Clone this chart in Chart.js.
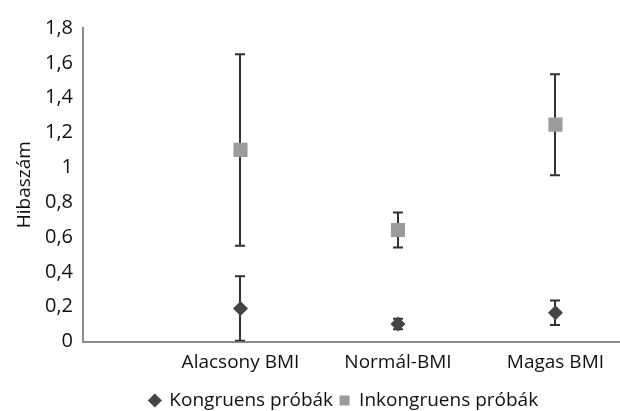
<!DOCTYPE html>
<html><head><meta charset="utf-8">
<script src="https://cdn.jsdelivr.net/npm/chart.js@4/dist/chart.umd.min.js"></script>
<style>html,body{margin:0;padding:0;background:#fff;overflow:hidden}#wrap{width:630px;height:411px;position:relative}</style>
</head><body><div id="wrap"><canvas id="c"></canvas></div>
<script>
const categories = ['Alacsony BMI', 'Normál-BMI', 'Magas BMI'];
const kongruensMean = [0.19, 0.10, 0.165];
const kongruensErr = [0.185, 0.03, 0.07];
const inkongruensMean = [1.10, 0.64, 1.245];
const inkongruensErr = [0.55, 0.10, 0.29];
const yTickValues = [0, 0.2, 0.4, 0.6, 0.8, 1, 1.2, 1.4, 1.6, 1.8];

const FONT = "'Open Sans', sans-serif";
const toPoints = arr => arr.map((v, i) => ({ x: i + 1, y: v }));

const errorBarPlugin = {
  id: 'errorBars',
  beforeDatasetsDraw(chart) {
    const ctx = chart.ctx, xs = chart.scales.x, ys = chart.scales.y, a = chart.chartArea;
    ctx.save();
    ctx.beginPath();
    ctx.rect(a.left, a.top - 2, a.right - a.left, a.bottom - a.top + 2);
    ctx.clip();
    ctx.strokeStyle = '#333';
    ctx.lineWidth = 2;
    chart.data.datasets.forEach(ds => {
      ds.data.forEach((p, i) => {
        const e = ds.errors[i];
        const x = Math.round(xs.getPixelForValue(p.x));
        const yt = ys.getPixelForValue(p.y + e), yb = ys.getPixelForValue(p.y - e);
        ctx.beginPath();
        ctx.moveTo(x, yt); ctx.lineTo(x, yb);
        ctx.moveTo(x - 5, yt); ctx.lineTo(x + 5, yt);
        ctx.moveTo(x - 5, yb); ctx.lineTo(x + 5, yb);
        ctx.stroke();
      });
    });
    ctx.restore();
  }
};

const legendShift = {
  id: 'legendShift',
  afterLayout(chart) {
    const l = chart.legend;
    l.left += 29; l.right += 29;
    l.top += 2; l.bottom += 2;
  }
};

new Chart(document.getElementById('c'), {
  type: 'scatter',
  data: {
    datasets: [
      { label: 'Kongruens próbák', data: toPoints(kongruensMean), errors: kongruensErr,
        pointStyle: 'rectRot', radius: 7.5, hoverRadius: 7.5,
        backgroundColor: '#444', borderColor: '#444', borderWidth: 0 },
      { label: 'Inkongruens próbák', data: toPoints(inkongruensMean), errors: inkongruensErr,
        pointStyle: 'rect', radius: 10, hoverRadius: 10,
        backgroundColor: '#9b9b9b', borderColor: '#9b9b9b', borderWidth: 0 }
    ]
  },
  options: {
    responsive: true, maintainAspectRatio: false, animation: false,
    layout: { padding: { top: 28, right: 0, left: 0, bottom: -7 } },
    plugins: {
      tooltip: { enabled: false },
      legend: {
        position: 'bottom',
        labels: { usePointStyle: true, boxWidth: 10, boxHeight: 10, padding: 6.5,
          color: '#111', font: { family: FONT, size: 19 } }
      }
    },
    scales: {
      x: {
        type: 'linear', min: 0, max: 3.41,
        grid: { display: false, drawTicks: false },
        border: { display: true, color: '#8a8a8a', width: 2 },
        afterBuildTicks: s => { s.ticks = [1, 2, 3].map(v => ({ value: v })); },
        afterFit: s => { s.height = 41; s.paddingRight = 0; s.paddingLeft = 0; },
        ticks: { padding: 10, color: '#111', font: { family: FONT, size: 19 }, maxRotation: 0,
          autoSkip: false, callback: v => categories[v - 1] }
      },
      y: {
        min: 0, max: 1.8,
        grid: { display: false, drawTicks: false },
        border: { display: true, color: '#8a8a8a', width: 2 },
        afterBuildTicks: s => { s.ticks = yTickValues.map(v => ({ value: v })); },
        afterFit: s => { s.width = 83; },
        title: { display: true, text: 'Hibaszám', color: '#111', font: { family: FONT, size: 19 }, padding: { top: 13, bottom: 0 } },
        ticks: { padding: 10, color: '#111', font: { family: FONT, size: 20 },
          callback: v => Number(v.toFixed(1)).toString().replace('.', ',') }
      }
    }
  },
  plugins: [errorBarPlugin, legendShift]
});
</script>
</body></html>
